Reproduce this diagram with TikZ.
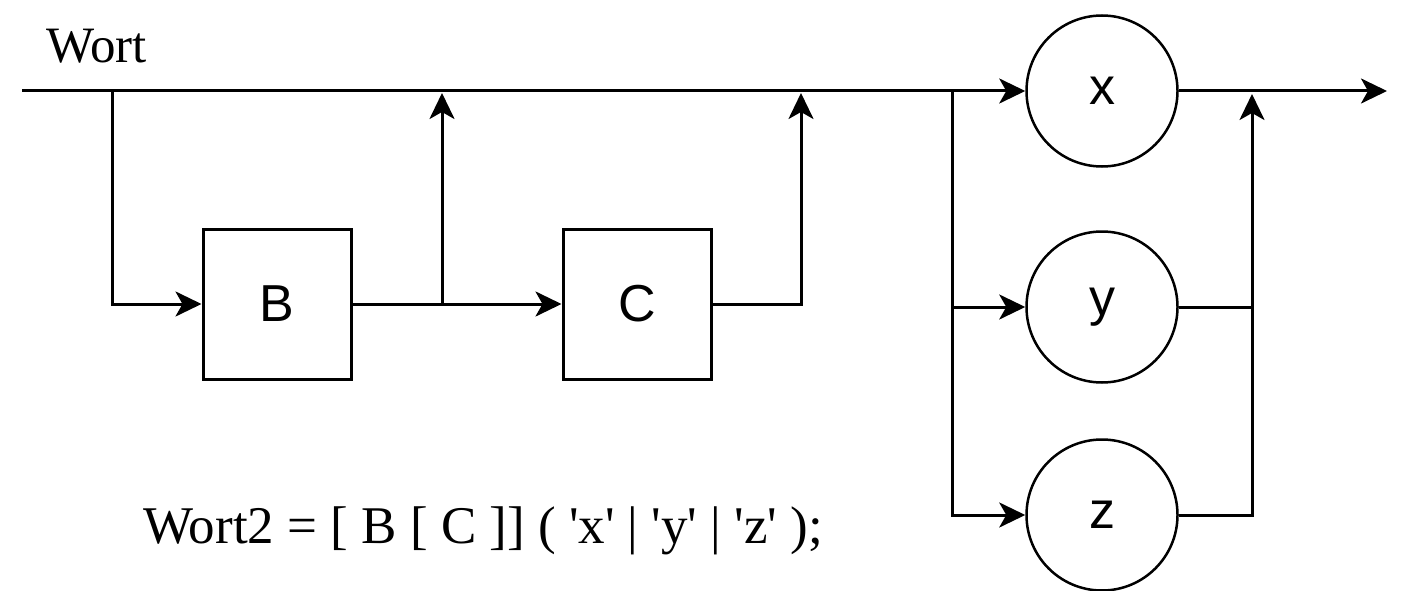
\documentclass[tikz,border=0pt]{standalone}
\usepackage{fontspec}
\setmainfont{Liberation Serif}
\newfontfamily\wortsans{Liberation Sans}
\usetikzlibrary{arrows.meta,positioning,calc}
\tikzset{
  wbox/.style={draw,line width=3pt,minimum width=148pt,minimum height=150pt,inner sep=0pt,
               font=\wortsans\fontsize{52}{60}\selectfont},
  wterm/.style={draw,circle,line width=2.5pt,minimum size=151pt,inner sep=0pt,
                font=\wortsans\fontsize{52}{60}\selectfont},
  wline/.style={line width=3pt},
  wflow/.style={wline,-{Stealth[length=26pt,width=25pt,inset=7pt]}},
  wtext/.style={inner sep=0pt,font=\fontsize{51}{60}\selectfont},
}
\begin{document}
\begin{tikzpicture}[x=1pt,y=-1pt]
  \useasboundingbox (0,0) rectangle (1413,591);

  \node[wtext,anchor=base west] (wort) at (46,63) {Wort};
  \node[wtext,anchor=base west,font=\fontsize{53}{60}\selectfont] (rule) at (143,543)
    {Wort2 = [ B [ C ]] ( \textquotesingle x\textquotesingle{} | \textquotesingle y\textquotesingle{} | \textquotesingle z\textquotesingle{} );};

  \node[wbox] (B) at (277,304) {B};
  \node[wbox] (C) at (637,304) {C};
  \node[wterm] (x) at (1102,91) {x};
  \node[wterm] (y) at (1102,307) {y};
  \node[wterm] (z) at (1102,515) {z};

  \coordinate (start) at (22,91);
  \coordinate (jB) at (112,91);
  \coordinate (bc) at (442,304);
  \coordinate (bcTop) at (442,93);
  \coordinate (cTop) at (801,93);
  \coordinate (jX) at (952,91);
  \coordinate (busTop) at (1252,94);
  \coordinate (out) at (1387,91);

  % main line and the optional parts B and C
  \draw[wflow] (start) -- (x);
  \draw[wflow] (jB) |- (B);
  \draw[wflow] (B) -- (C);
  \draw[wflow] (bc) -- (bcTop);
  \draw[wflow] (C.east) -| (cTop);

  % alternatives x, y, z
  \draw[wflow] (jX) |- (z);
  \draw[wflow] (jX |- y) -- (y);
  \draw[wflow] (z.east) -| (busTop);
  \draw[wline] (y.east) -- (y.east -| busTop);
  \draw[wflow] (x.east) -- (out);
\end{tikzpicture}
\end{document}
